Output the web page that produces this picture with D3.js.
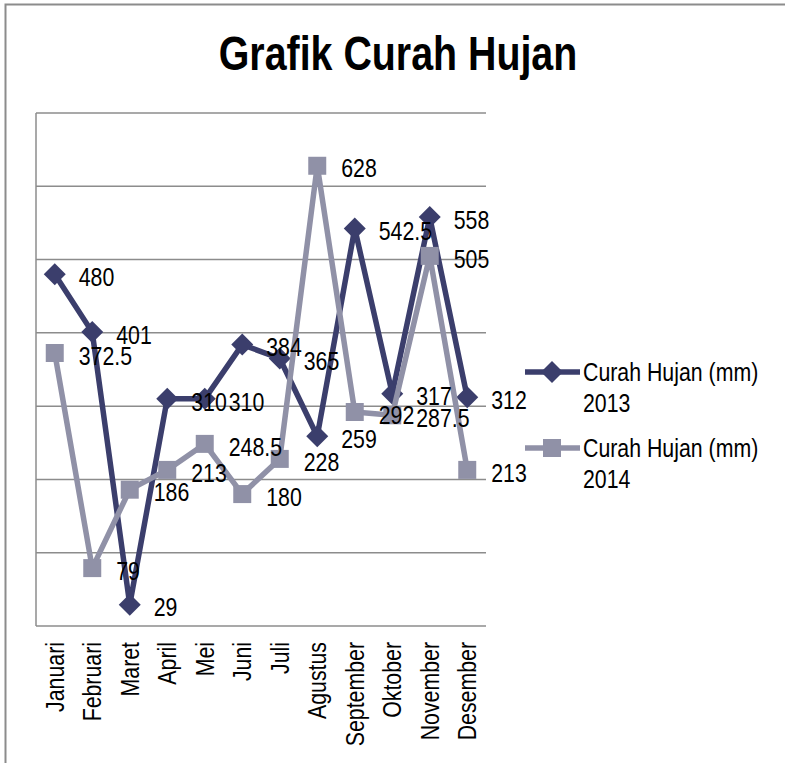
<!DOCTYPE html>
<html>
<head>
<meta charset="utf-8">
<script src="https://cdn.jsdelivr.net/npm/d3@7"></script>
<style>
  body { margin: 0; background: #fff; }
  text { font-family: "Liberation Sans Narrow", "Arial Narrow", "Liberation Sans", Arial, sans-serif; fill: #000; }
  .title { font-size: 48px; font-weight: bold; }
  .label, .tick-label, .legend-text { font-size: 26px; }
</style>
</head>
<body>
<div id="chart"></div>
<script>
// data
var bulan = ["Januari","Februari","Maret","April","Mei","Juni","Juli","Agustus","September","Oktober","November","Desember"];
var hujan2013 = [480, 401, 29, 310, 310, 384, 365, 259, 542.5, 317, 558, 312];
var hujan2014 = [372.5, 79, 186, 213, 248.5, 180, 228, 628, 292, 287.5, 505, 213];
var seriesNames = ["Curah Hujan (mm) 2013", "Curah Hujan (mm) 2014"];
var yTicks = [0, 100, 200, 300, 400, 500, 600, 700];

var width = 785, height = 765;
var plot = { left: 36, right: 486, top: 113, bottom: 626 };
var narrow = 0.82; // no Arial Narrow here, squeeze Liberation Sans instead

var svg = d3.select("#chart").append("svg")
  .attr("width", width)
  .attr("height", height);

// outer frame (only top and left visible in the picture)
svg.append("path")
  .attr("d", "M5.5,763 V4.5 H790")
  .attr("fill", "none")
  .attr("stroke", "#8c8c8c")
  .attr("stroke-width", 2);

//title
svg.append("text")
  .attr("class", "title")
  .attr("text-anchor", "middle")
  .attr("transform", "translate(398,70) scale(" + narrow + ",1)")
  .text("Grafik Curah Hujan");

///////////////////////////// scales /////////////////////////////
var x = d3.scalePoint()
  .domain(bulan)
  .range([plot.left, plot.right])
  .padding(0.5);

var y = d3.scaleLinear()
  .domain([0, 700])
  .range([plot.bottom, plot.top]);

//gridlines
svg.append("g").attr("class", "grid")
  .selectAll("line")
  .data(yTicks)
  .enter().append("line")
  .attr("x1", plot.left)
  .attr("x2", plot.right)
  .attr("y1", function(d) { return y(d); })
  .attr("y2", function(d) { return y(d); })
  .attr("stroke", "#8c8c8c")
  .attr("stroke-width", 1.5);

//left axis line
svg.append("line")
  .attr("x1", plot.left).attr("x2", plot.left)
  .attr("y1", plot.top).attr("y2", plot.bottom)
  .attr("stroke", "#8c8c8c")
  .attr("stroke-width", 1.5);

//month labels, rotated
svg.append("g").selectAll(".tick-label")
  .data(bulan)
  .enter().append("text")
  .attr("class", "tick-label")
  .attr("text-anchor", "end")
  .attr("dy", "0.35em")
  .attr("transform", function(d) { return "translate(" + x(d) + ",642) rotate(-90) scale(" + narrow + ",1)"; })
  .text(function(d) { return d; });

///////////////////////////// lines /////////////////////////////
var series = [
  { name: seriesNames[0], values: hujan2013, color: "#3b3e6c", marker: "diamond" },
  { name: seriesNames[1], values: hujan2014, color: "#9091a7", marker: "square" }
];

var line = d3.line()
  .x(function(d, i) { return x(bulan[i]); })
  .y(function(d) { return y(d); });

function markerPath(type) {
  if (type === "diamond") return "M0,-11 L11,0 L0,11 L-11,0 Z";
  return "M-9,-9 H9 V9 H-9 Z";
}

//2014 sits on top of 2013
series.forEach(function(s) {
  var g = svg.append("g");
  g.append("path")
    .datum(s.values)
    .attr("d", line)
    .attr("fill", "none")
    .attr("stroke", s.color)
    .attr("stroke-width", 5.5)
    .attr("stroke-linejoin", "round");
  g.selectAll(".pt")
    .data(s.values)
    .enter().append("path")
    .attr("class", "pt")
    .attr("transform", function(d, i) { return "translate(" + x(bulan[i]) + "," + y(d) + ")"; })
    .attr("d", markerPath(s.marker))
    .attr("fill", s.color);
});

//data labels, right of each point
series.forEach(function(s) {
  svg.append("g").selectAll(".label")
    .data(s.values)
    .enter().append("text")
    .attr("class", "label")
    .attr("dy", "0.45em")
    .attr("transform", function(d, i) {
      return "translate(" + (x(bulan[i]) + 24) + "," + y(d) + ") scale(" + narrow + ",1)";
    })
    .text(function(d) { return d; });
});

///////////////////////////// legend /////////////////////////////
var legendY = [372, 448];
var legend = svg.append("g").attr("class", "legend");
series.forEach(function(s, i) {
  var g = legend.append("g").attr("transform", "translate(0," + legendY[i] + ")");
  g.append("line")
    .attr("x1", 525).attr("x2", 580)
    .attr("stroke", s.color)
    .attr("stroke-width", 5.5);
  g.append("path")
    .attr("transform", "translate(552,0)")
    .attr("d", markerPath(s.marker))
    .attr("fill", s.color);
  var words = s.name.split(" ");
  var t = g.append("text")
    .attr("class", "legend-text")
    .attr("transform", "translate(583,9) scale(" + narrow + ",1)");
  t.append("tspan").attr("x", 0).text(words.slice(0, 3).join(" "));
  t.append("tspan").attr("x", 0).attr("dy", 31).text(words[3]);
});
</script>
</body>
</html>
